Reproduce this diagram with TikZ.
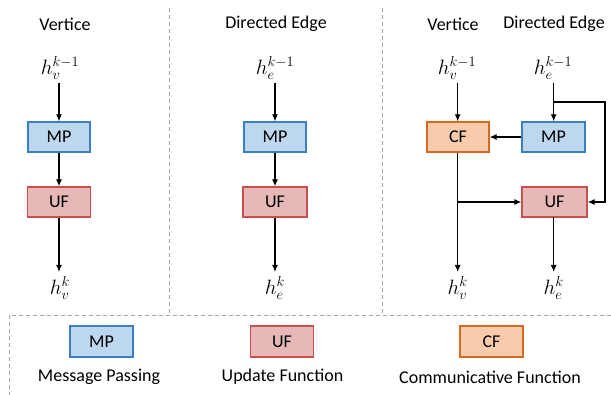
\documentclass[tikz,border=0pt]{standalone}
\usepackage{fontspec}
\setmainfont{Carlito}
\usetikzlibrary{arrows.meta}
\definecolor{mpfill}{HTML}{BDD7EE}
\definecolor{mpdraw}{HTML}{3A7FC1}
\definecolor{uffill}{HTML}{E6B9B8}
\definecolor{ufdraw}{HTML}{C9504F}
\definecolor{cffill}{HTML}{F8CBAD}
\definecolor{cfdraw}{HTML}{D8691E}
\definecolor{sepgray}{HTML}{A6A6A6}
\begin{document}
\begin{tikzpicture}[x=1pt,y=-1pt,
  every node/.style={font=\fontsize{18}{21}\selectfont, inner sep=0pt},
  blk/.style={rectangle, draw, line width=1.3pt, minimum height=30pt, text=black},
  mpbox/.style={blk, fill=mpfill, draw=mpdraw, minimum width=62pt},
  ufbox/.style={blk, fill=uffill, draw=ufdraw, minimum width=63pt},
  cfbox/.style={blk, fill=cffill, draw=cfdraw, minimum width=62pt},
  mathlbl/.style={font=\fontsize{21}{24}\selectfont},
  conn/.style={line width=1.2pt, -{Latex[length=7pt,width=6pt]}},
  sep/.style={draw=sepgray, line width=0.8pt, dash pattern=on 4pt off 3pt}
]
\useasboundingbox (0,0) rectangle (611,395);

% separators
\draw[sep] (169,8) -- (169,315);
\draw[sep] (382,8) -- (382,315);
\draw[sep] (611,315) -- (9,315) -- (9,395);

% left panel
\node (t1) at (65,24) {Vertice};
\node[mathlbl] (hv0) at (60,68) {$h_v^{k-1}$};
\node[mpbox] (mp1) at (59,137) {MP};
\node[ufbox] (uf1) at (59,202) {UF};
\node[mathlbl] (hv1) at (60,288) {$h_v^{k}$};
\draw[conn] (59,83) -- (mp1.north);
\draw[conn] (mp1.south) -- (uf1.north);
\draw[conn] (uf1.south) -- (59,272);

% middle panel
\node (t2) at (276,24) {Directed Edge};
\node[mathlbl] (he0) at (275,68) {$h_e^{k-1}$};
\node[mpbox] (mp2) at (275,137) {MP};
\node[ufbox, minimum width=64pt] (uf2) at (275,202) {UF};
\node[mathlbl] (he1) at (275,288) {$h_e^{k}$};
\draw[conn] (275,83) -- (mp2.north);
\draw[conn] (mp2.south) -- (uf2.north);
\draw[conn] (uf2.south) -- (275,272);

% right panel
\node (t3) at (453,24) {Vertice};
\node (t4) at (554,24) {Directed Edge};
\node[mathlbl] (hv2) at (457,68) {$h_v^{k-1}$};
\node[mathlbl] (he2) at (553,68) {$h_e^{k-1}$};
\node[cfbox] (cf3) at (458,137) {CF};
\node[mpbox, minimum width=63pt] (mp3) at (553.5,137) {MP};
\node[ufbox, minimum width=65pt] (uf3) at (554.5,202) {UF};
\node[mathlbl] (hv3) at (457.7,288) {$h_v^{k}$};
\node[mathlbl] (he3) at (553.7,288) {$h_e^{k}$};
\coordinate (a1) at (457.7,83);
\coordinate (a2) at (553.7,83);
\coordinate (b2) at (553.7,102);
\coordinate (c1) at (457.7,202);
\draw[conn] (a1) -- (a1 |- cf3.north);
\draw[conn] (a2) -- (a2 |- mp3.north);
\draw[conn] (b2) -- (605,102) -- (605,202) -- (uf3.east);
\draw[conn] (mp3.west) -- (cf3.east);
\draw[conn] (c1 |- cf3.south) -- (457.7,272);
\draw[conn] (c1) -- (uf3.west);
\draw[conn] (553.7,217) -- (553.7,272);

% legend
\node[mpbox, minimum width=63pt, minimum height=31pt] (lmp) at (101.5,341.5) {MP};
\node[ufbox, minimum height=31pt] (luf) at (282,341.5) {UF};
\node[cfbox, minimum width=63pt, minimum height=31pt] (lcf) at (491.5,341.5) {CF};
\node (lmpt) at (99,377) {Message Passing};
\node (luft) at (282.5,377) {Update Function};
\node (lcft) at (490,377) {Communicative Function};
\end{tikzpicture}
\end{document}
